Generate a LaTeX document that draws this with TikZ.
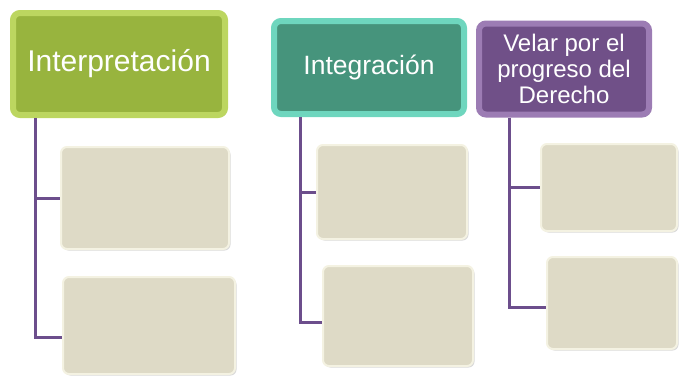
\documentclass[tikz,border=0pt]{standalone}
\usepackage{fontspec}
\setmainfont{Liberation Sans}
\usetikzlibrary{positioning,shadows}

\definecolor{greenface}{RGB}{152,180,62}
\definecolor{greenedge}{RGB}{188,214,96}
\definecolor{tealface}{RGB}{70,148,124}
\definecolor{tealedge}{RGB}{110,214,190}
\definecolor{plumface}{RGB}{112,80,136}
\definecolor{plumedge}{RGB}{156,124,180}
\definecolor{sandface}{RGB}{222,218,198}
\definecolor{sandedge}{RGB}{244,242,226}
\definecolor{linkcol}{RGB}{108,78,140}

\begin{document}
\begin{tikzpicture}[x=1pt,y=-1pt,
    header/.style={rectangle, rounded corners=7pt, line width=6pt, text=white,
      inner sep=0pt, align=center,
      drop shadow={opacity=0.35, shadow xshift=2pt, shadow yshift=-2pt}},
    leaf/.style={rectangle, rounded corners=6pt, line width=2pt, draw=sandedge,
      fill=sandface, inner sep=0pt,
      drop shadow={opacity=0.3, shadow xshift=1.5pt, shadow yshift=-1.5pt}},
    link/.style={draw=linkcol, line width=3pt}]
    \useasboundingbox (0,0) rectangle (679,383);
    %headers
    \node[header, draw=greenedge, fill=greenface, minimum width=212pt, minimum height=102pt,
      font=\fontsize{30}{34}\selectfont] (hdrA) at (119,64) {Interpretación};
    \node[header, draw=tealedge, fill=tealface, minimum width=190pt, minimum height=93pt,
      font=\fontsize{26.5}{30}\selectfont] (hdrB) at (369,67.5) {Integración};
    \node[header, draw=plumedge, fill=plumface, minimum width=170pt, minimum height=91pt,
      font=\fontsize{24}{26}\selectfont] (hdrC) at (564,69) {Velar por el\\progreso del\\Derecho};
    %leaves
    \node[leaf, minimum width=168pt, minimum height=102pt] (subA1) at (145,198) {};
    \node[leaf, minimum width=172pt, minimum height=97pt] (subA2) at (149,325.5) {};
    \node[leaf, minimum width=150pt, minimum height=94pt] (subB1) at (392,192) {};
    \node[leaf, minimum width=150pt, minimum height=100pt] (subB2) at (398,316) {};
    \node[leaf, minimum width=136pt, minimum height=87pt] (subC1) at (609,187.5) {};
    \node[leaf, minimum width=130pt, minimum height=92pt] (subC2) at (612,303) {};
    %trunks
    \coordinate (trunkA) at ([xshift=25pt]hdrA.south west);
    \coordinate (trunkB) at ([xshift=29pt]hdrB.south west);
    \coordinate (trunkC) at ([xshift=33pt]hdrC.south west);
    %edges
    \draw[link] (trunkA) |- ([yshift=-12pt]subA2.west);
    \draw[link] (trunkA |- subA1.west) -- (subA1.west);
    \draw[link] (trunkB) |- ([yshift=-6pt]subB2.west);
    \draw[link] (trunkB |- subB1.west) -- (subB1.west);
    \draw[link] (trunkC) |- ([yshift=-4pt]subC2.west);
    \draw[link] (trunkC |- subC1.west) -- (subC1.west);
\end{tikzpicture}
\end{document}
